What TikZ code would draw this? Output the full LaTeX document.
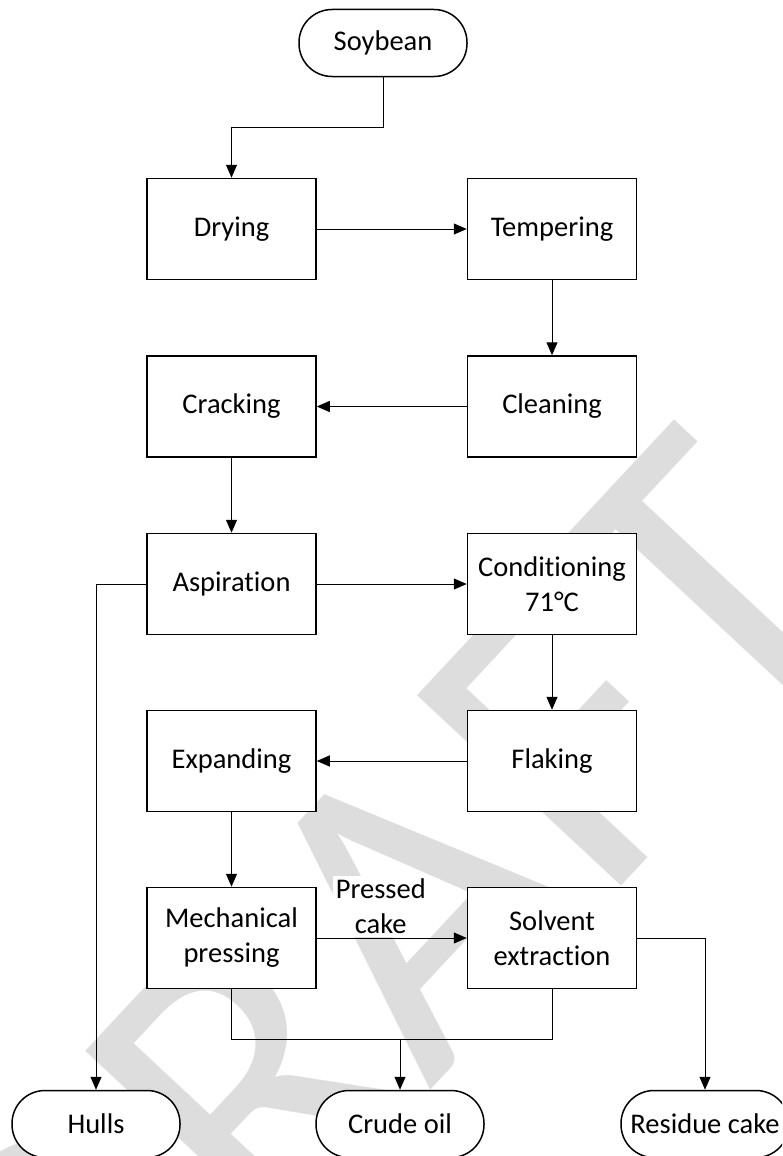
\documentclass[tikz,border=0pt]{standalone}
\usepackage{fontspec}
\setmainfont[Ligatures=NoCommon]{Carlito}
\usetikzlibrary{arrows.meta}
\definecolor{wmgray}{RGB}{221,221,221}

\begin{document}
\begin{tikzpicture}[x=1pt,y=-1pt,line width=1pt,>={Triangle[length=13pt,width=11pt]},
  every node/.style={font=\fontsize{28.5}{35}\selectfont},
  proc/.style={draw,line width=1.5pt,fill=white,minimum width=169pt,minimum height=101pt,align=center,inner sep=2pt},
  term/.style={draw,line width=1.5pt,fill=white,rounded corners=33pt,minimum width=168pt,minimum height=67pt,inner sep=2pt},
  lbl/.style={fill=white,align=center,inner sep=3pt}]
  \useasboundingbox (0,0) rectangle (782,1156);
  \clip (0,0) rectangle (782,1156);
  % watermark
  \node[wmgray,rotate=47,inner sep=0pt,font=\fontsize{435}{435}\selectfont] (wm) at (382,938) {DRAFT};
  \node[term] (soy) at (383,43) {Soybean};
  \node[proc] (dry) at (231.5,229) {Drying};
  \node[proc] (temp) at (552,229) {Tempering};
  \node[proc] (crack) at (231.5,406.5) {Cracking};
  \node[proc] (clean) at (552,406.5) {Cleaning};
  \node[proc] (asp) at (231.5,584) {Aspiration};
  \node[proc] (cond) at (552,584) {Conditioning\\71°C};
  \node[proc] (exp) at (231.5,761) {Expanding};
  \node[proc] (flak) at (552,761) {Flaking};
  \node[proc] (mech) at (231.5,938) {Mechanical\\pressing};
  \node[proc] (solv) at (552,938) {Solvent\\extraction};
  \node[term] (hulls) at (96,1124) {Hulls};
  \node[term] (crude) at (400,1124) {Crude oil};
  \node[term] (res) at (705,1124) {Residue cake};
  % main line
  \draw[->] (soy.south) -- ++(0,50) -| (dry.north);
  \draw[->] (dry) -- (temp);
  \draw[->] (temp) -- (clean);
  \draw[->] (clean) -- (crack);
  \draw[->] (crack) -- (asp);
  \draw[->] (asp) -- (cond);
  \draw[->] (cond) -- (flak);
  \draw[->] (flak) -- (exp);
  \draw[->] (exp) -- (mech);
  \draw[->] (mech) -- node[lbl,above=1pt,xshift=-11pt] {Pressed\\cake} (solv);
  % outputs
  \draw[->] (asp.west) -| (hulls.north);
  \draw (mech.south) -- ++(0,50) coordinate (jn) -| (solv.south);
  \draw[->] (crude.north |- jn) -- (crude.north);
  \draw[->] (solv.east) -| (res.north);
\end{tikzpicture}
\end{document}
